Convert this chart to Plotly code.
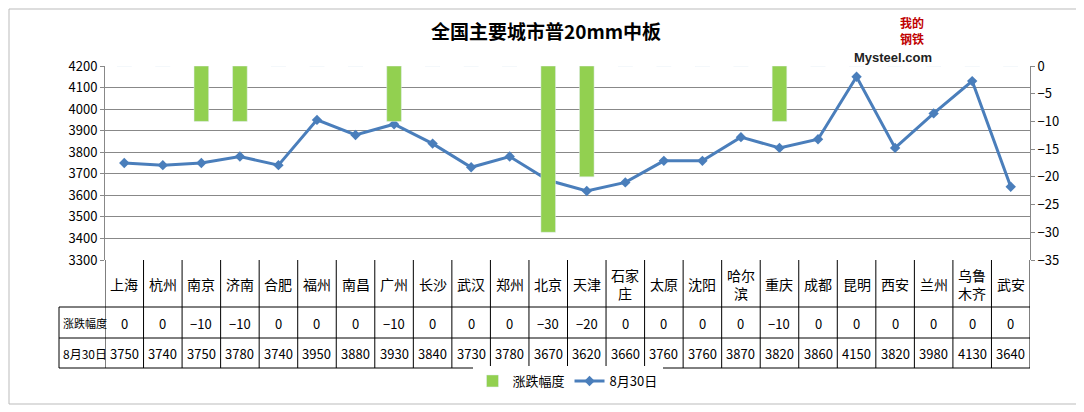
import plotly.graph_objects as go

cities = ["上海","杭州","南京","济南","合肥","福州","南昌","广州","长沙","武汉","郑州","北京","天津","石家庄","太原","沈阳","哈尔滨","重庆","成都","昆明","西安","兰州","乌鲁木齐","武安"]
labels = ["上海","杭州","南京","济南","合肥","福州","南昌","广州","长沙","武汉","郑州","北京","天津","石家<br>庄","太原","沈阳","哈尔<br>滨","重庆","成都","昆明","西安","兰州","乌鲁<br>木齐","武安"]
change = [0,0,-10,-10,0,0,0,-10,0,0,0,-30,-20,0,0,0,0,-10,0,0,0,0,0,0]
price = [3750,3740,3750,3780,3740,3950,3880,3930,3840,3730,3780,3670,3620,3660,3760,3760,3870,3820,3860,4150,3820,3980,4130,3640]

n = len(cities)
xs = list(range(n))
fig = go.Figure()
fig.add_bar(x=xs, y=change, name="涨跌幅度", marker_color="#92D050", width=0.38, yaxis="y2")
fig.add_scatter(x=xs, y=price, name="8月30日", mode="lines+markers",
                line=dict(color="#4A7EBB", width=3), marker=dict(symbol="diamond", size=8, color="#4A7EBB"))

F = "Noto Sans CJK SC"
O = 8  # page body offset
W, H = 1084 - O, 412 - O
L, R, T, B = 105 - O, 54, 66 - O, 152
ph = H - T - B
pw = W - L - R
def py(p): return (H - B - (p - O)) / ph
def px(p): return ((p - O) - L) / pw

shapes, ann = [], []
ytop, r1, r2, r3 = 0, py(307), py(338), py(368)
xl = px(59)
blk = dict(color="black", width=1)
for i in range(n + 1):
    shapes.append(dict(type="line", xref="x", yref="paper", x0=i-0.5, x1=i-0.5, y0=ytop, y1=r3, line=blk))
for yy in [r1, r2, r3]:
    shapes.append(dict(type="line", xref="paper", yref="paper", x0=xl, x1=1, y0=yy, y1=yy, line=blk))
shapes.append(dict(type="line", xref="paper", yref="paper", x0=xl, x1=xl, y0=r1, y1=r3, line=blk))
shapes.append(dict(type="rect", xref="paper", yref="paper", x0=px(9), x1=px(1078), y0=py(404), y1=py(9), line=dict(color="#BBBBBB", width=1)))
c1, c2, c3 = py(284), py(323), py(353)
def A(**k):
    k.setdefault("yanchor", "middle"); k.setdefault("showarrow", False)
    k.setdefault("xref", "paper"); k.setdefault("yref", "paper")
    ann.append(k)
for i in range(n):
    A(x=i, y=c1, xref="x", text=labels[i], font=dict(size=14, family=F, color="black"))
    A(x=i, y=c2, xref="x", text=("−%d" % -change[i]) if change[i] else "0", font=dict(size=13, family=F, color="black"))
    A(x=i, y=c3, xref="x", text=str(price[i]), font=dict(size=13, family=F, color="black"))
A(x=px(61), y=c2, xanchor="left", text="涨跌幅度", font=dict(size=11, family=F, color="black"))
A(x=px(61), y=c3, xanchor="left", text="8月30日", font=dict(size=12, family=F, color="black"))
A(x=px(926), y=py(30), text="<b>我的<br>钢铁</b>", font=dict(size=12, family=F, color="#C00000"))
A(x=px(934), y=py(58), text="<b>Mysteel.com</b>", font=dict(size=13, family="Liberation Sans", color="#222"))

fig.update_layout(
    width=W, height=H, margin=dict(l=L, r=R, t=T, b=B),
    paper_bgcolor="white", plot_bgcolor="white",
    title=dict(text="<b>全国主要城市普20mm中板</b>", x=0.5, y=1 - (32 - O) / H, yanchor="middle", font=dict(size=19, family=F, color="black")),
    xaxis=dict(range=[-0.5, n - 0.5], showticklabels=False, showgrid=False, zeroline=False, ticks=""),
    yaxis=dict(range=[3300, 4200], dtick=100, gridcolor="#888888", tickfont=dict(size=13, family=F, color="black"), zeroline=False, showline=True, linecolor="#888", ticks="outside", ticklen=4, tickcolor="#888"),
    yaxis2=dict(range=[-35, 0], dtick=5, overlaying="y", side="right", showgrid=False, zeroline=False, tickfont=dict(size=13, family=F, color="black"), showline=True, linecolor="#888", ticks="outside", ticklen=4, tickcolor="#888"),
    legend=dict(orientation="h", x=0.5, xanchor="center", y=py(381), yanchor="middle", font=dict(size=13, family=F, color="black")),
    shapes=shapes, annotations=ann, showlegend=True,
)
fig.write_html("out.html")
